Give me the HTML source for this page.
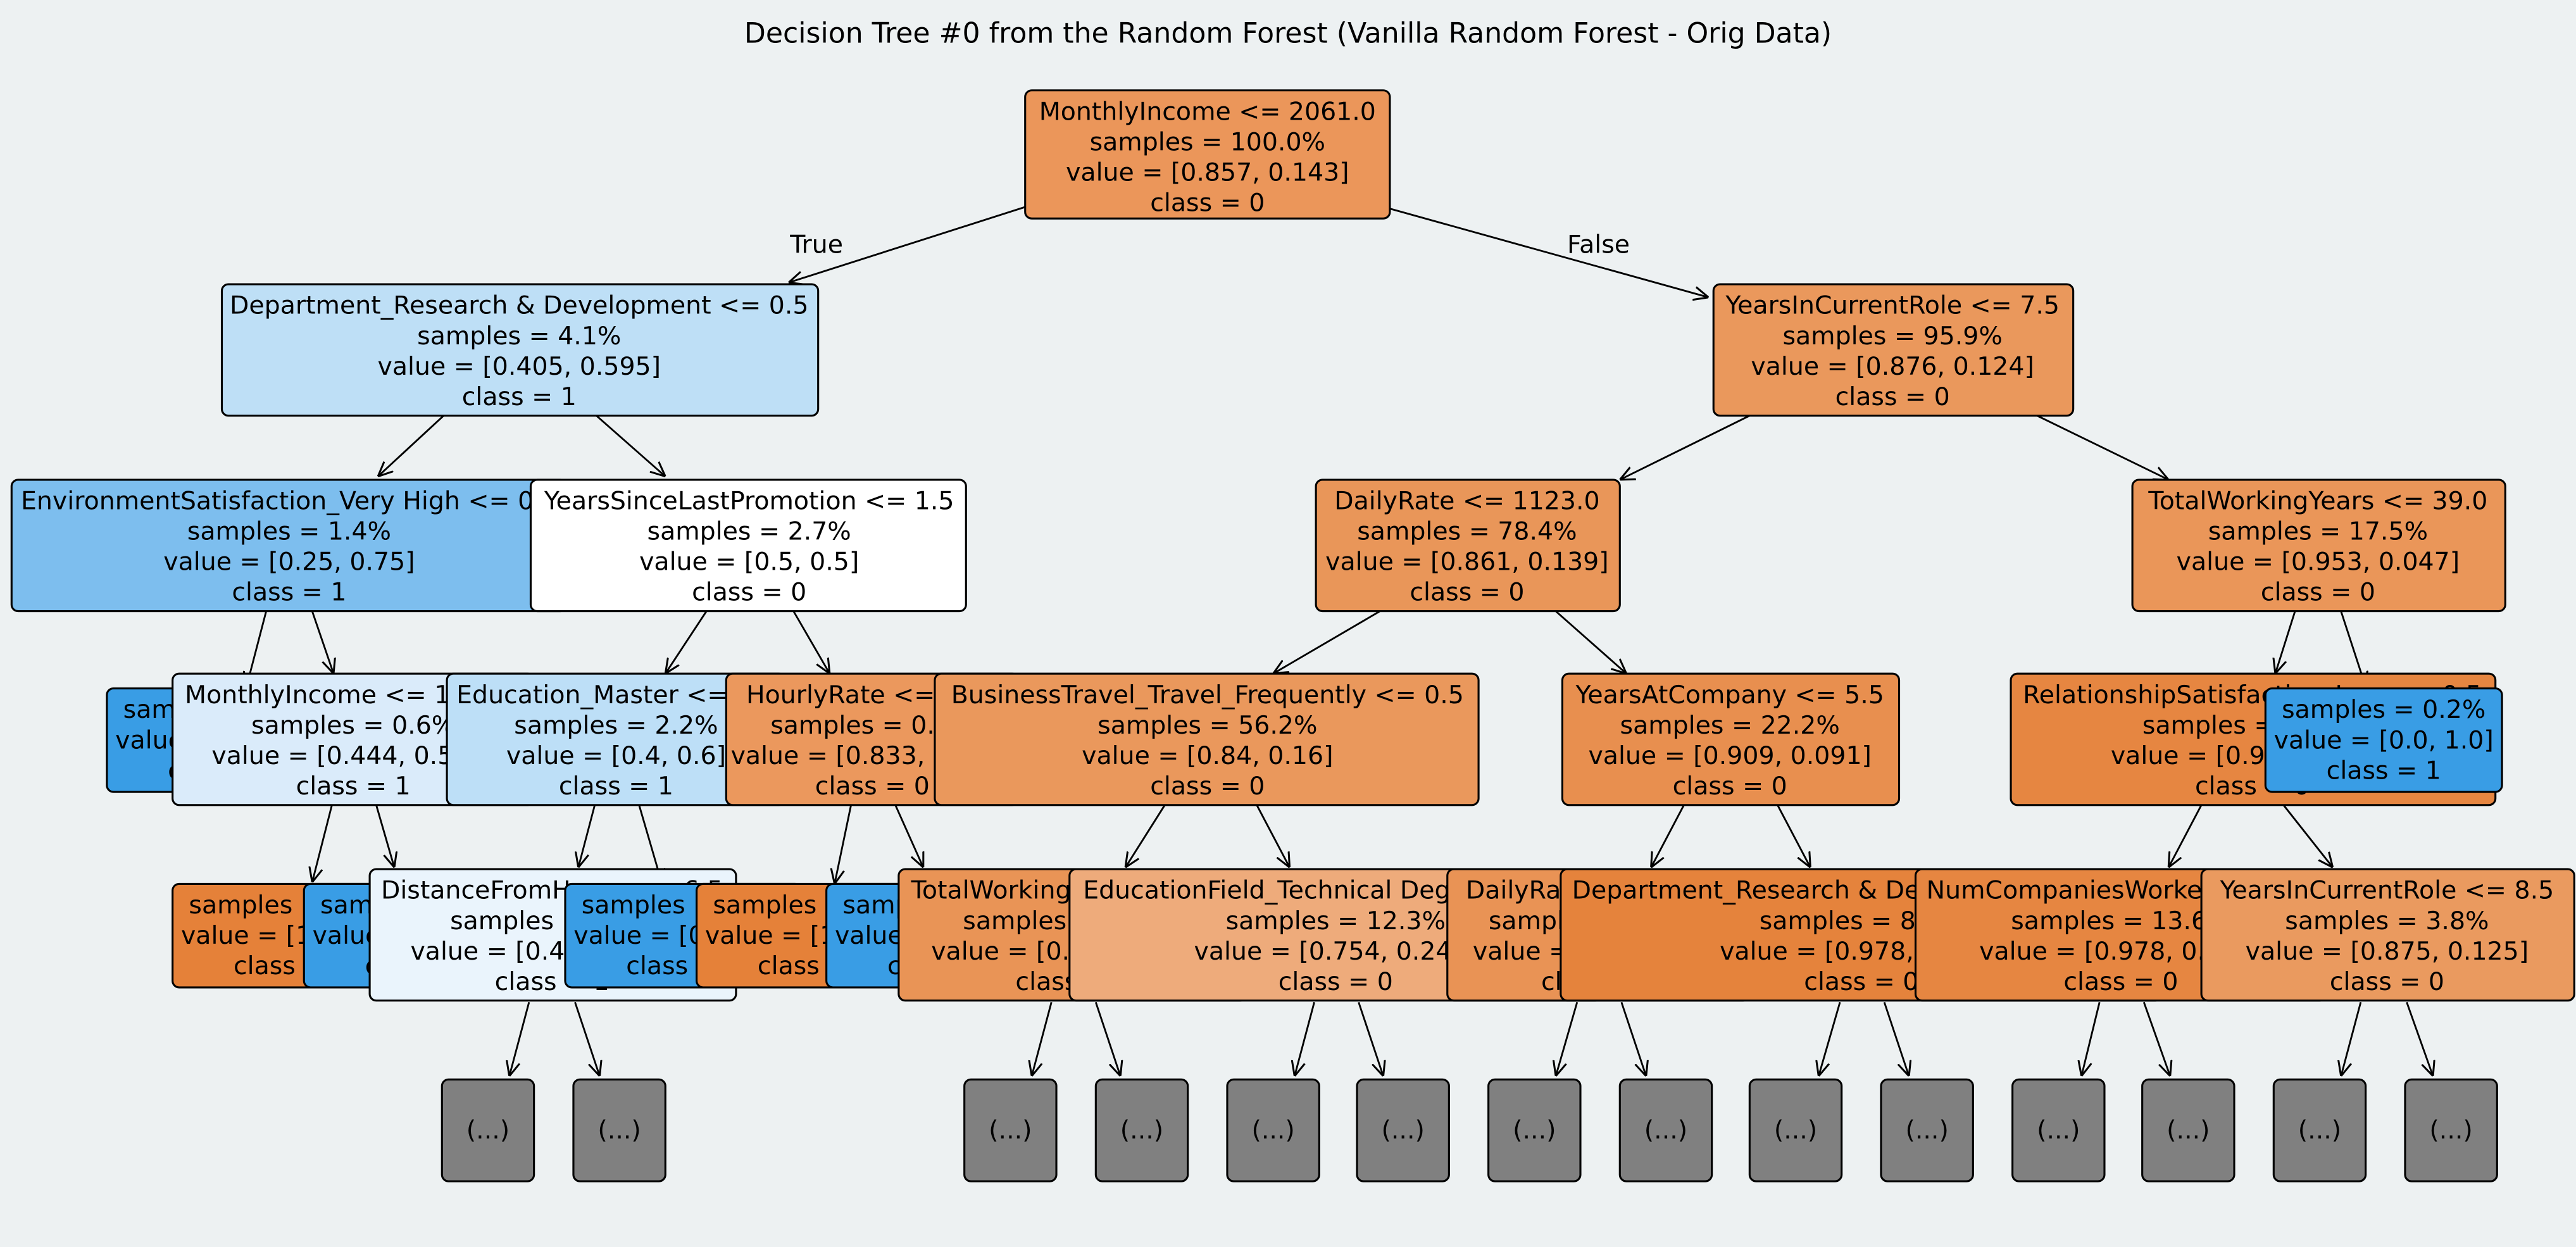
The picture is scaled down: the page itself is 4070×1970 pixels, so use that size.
<!DOCTYPE html>
<html><head><meta charset="utf-8"><style>
html,body{margin:0;padding:0;background:#edf1f2;}
svg{display:block;}
text{font-family:"DejaVu Sans","Liberation Sans",sans-serif;font-size:15.2px;fill:#000;}
</style></head><body>
<svg width="4070" height="1970" viewBox="0 0 1568 759" xmlns="http://www.w3.org/2000/svg">
<defs>
<marker id="a" markerUnits="userSpaceOnUse" markerWidth="9" markerHeight="9" refX="10" refY="5" orient="auto" viewBox="0 0 10 10">
<path d="M0,0.5 L10,5 L0,9.5" fill="none" stroke="#000" stroke-width="1.3"/>
</marker>
</defs>
<rect width="1568" height="759" fill="#edf1f2"/>
<text x="784" y="26" text-anchor="middle" style="font-size:17px">Decision Tree #0 from the Random Forest (Vanilla Random Forest - Orig Data)</text>

<g stroke="#000" stroke-width="1.1" marker-end="url(#a)">
<line x1="624" y1="126" x2="480" y2="172"/>
<line x1="846" y1="127" x2="1040" y2="181"/>
<line x1="270" y1="253" x2="230" y2="290"/>
<line x1="363" y1="253" x2="405" y2="290"/>
<line x1="1065" y1="253" x2="986" y2="292"/>
<line x1="1240" y1="253" x2="1320" y2="292"/>
<line x1="162" y1="372" x2="150" y2="418"/>
<line x1="190" y1="372" x2="203" y2="410"/>
<line x1="430" y1="372" x2="405" y2="410"/>
<line x1="483" y1="372" x2="505" y2="410"/>
<line x1="840" y1="372" x2="775" y2="410"/>
<line x1="947" y1="372" x2="990" y2="410"/>
<line x1="1397" y1="372" x2="1385" y2="410"/>
<line x1="1425" y1="372" x2="1440" y2="418"/>
<line x1="202" y1="490" x2="190" y2="537"/>
<line x1="229" y1="490" x2="240" y2="528"/>
<line x1="362" y1="490" x2="352" y2="528"/>
<line x1="389" y1="490" x2="403" y2="538"/>
<line x1="518" y1="490" x2="508" y2="538"/>
<line x1="545" y1="490" x2="562" y2="528"/>
<line x1="709" y1="490" x2="685" y2="528"/>
<line x1="765" y1="490" x2="785" y2="528"/>
<line x1="1025" y1="490" x2="1005" y2="528"/>
<line x1="1082" y1="490" x2="1102" y2="528"/>
<line x1="1340" y1="490" x2="1320" y2="528"/>
<line x1="1390" y1="490" x2="1420" y2="528"/>
<line x1="322" y1="610" x2="310" y2="655"/>
<line x1="350" y1="610" x2="365" y2="655"/>
<line x1="640" y1="610" x2="628" y2="655"/>
<line x1="667" y1="610" x2="682" y2="655"/>
<line x1="800" y1="610" x2="788" y2="655"/>
<line x1="827" y1="610" x2="842" y2="655"/>
<line x1="960" y1="610" x2="947" y2="655"/>
<line x1="987" y1="610" x2="1002" y2="655"/>
<line x1="1120" y1="610" x2="1107" y2="655"/>
<line x1="1147" y1="610" x2="1162" y2="655"/>
<line x1="1278" y1="610" x2="1267" y2="655"/>
<line x1="1305" y1="610" x2="1321" y2="655"/>
<line x1="1437" y1="610" x2="1425" y2="655"/>
<line x1="1465" y1="610" x2="1481" y2="655"/>
</g>

<text x="497" y="154" text-anchor="middle">True</text>
<text x="973" y="154" text-anchor="middle">False</text>

<g stroke="#000" stroke-width="1.2">
<rect x="624" y="55" width="222" height="78" rx="4" fill="#eb965a"/>
<rect x="135" y="173" width="363" height="80" rx="4" fill="#bedff6"/>
<rect x="1043" y="173" width="219" height="80" rx="4" fill="#ea985c"/>
</g>
<g text-anchor="middle">
<text x="735" y="73">MonthlyIncome &lt;= 2061.0</text><text x="735" y="91.5">samples = 100.0%</text><text x="735" y="110">value = [0.857, 0.143]</text><text x="735" y="128.5">class = 0</text>
<text x="316" y="191">Department_Research &amp; Development &lt;= 0.5</text><text x="316" y="209.5">samples = 4.1%</text><text x="316" y="228">value = [0.405, 0.595]</text><text x="316" y="246.5">class = 1</text>
<text x="1152" y="191">YearsInCurrentRole &lt;= 7.5</text><text x="1152" y="209.5">samples = 95.9%</text><text x="1152" y="228">value = [0.876, 0.124]</text><text x="1152" y="246.5">class = 0</text>
</g>

<g text-anchor="middle">
<rect x="7" y="292" width="338" height="80" rx="4" fill="#7dbeee" stroke="#000" stroke-width="1.2"/>
<text x="176" y="310">EnvironmentSatisfaction_Very High &lt;= 0.5</text><text x="176" y="328.5">samples = 1.4%</text><text x="176" y="347">value = [0.25, 0.75]</text><text x="176" y="365.5">class = 1</text>
<rect x="323" y="292" width="265" height="80" rx="4" fill="#ffffff" stroke="#000" stroke-width="1.2"/>
<text x="456" y="310">YearsSinceLastPromotion &lt;= 1.5</text><text x="456" y="328.5">samples = 2.7%</text><text x="456" y="347">value = [0.5, 0.5]</text><text x="456" y="365.5">class = 0</text>
<rect x="801" y="292" width="185" height="80" rx="4" fill="#e99659" stroke="#000" stroke-width="1.2"/>
<text x="893" y="310">DailyRate &lt;= 1123.0</text><text x="893" y="328.5">samples = 78.4%</text><text x="893" y="347">value = [0.861, 0.139]</text><text x="893" y="365.5">class = 0</text>
<rect x="1298" y="292" width="227" height="80" rx="4" fill="#ea9659" stroke="#000" stroke-width="1.2"/>
<text x="1411" y="310">TotalWorkingYears &lt;= 39.0</text><text x="1411" y="328.5">samples = 17.5%</text><text x="1411" y="347">value = [0.953, 0.047]</text><text x="1411" y="365.5">class = 0</text>
</g>

<g text-anchor="middle">
<rect x="65" y="419" width="144" height="63" rx="4" fill="#399de5" stroke="#000" stroke-width="1.2"/>
<text x="137" y="437">samples = 0.8%</text><text x="137" y="455.5">value = [0.0, 1.0]</text><text x="137" y="474">class = 1</text>
<rect x="105" y="410" width="220" height="80" rx="4" fill="#daebfa" stroke="#000" stroke-width="1.2"/>
<text x="215" y="428">MonthlyIncome &lt;= 1628.0</text><text x="215" y="446.5">samples = 0.6%</text><text x="215" y="465">value = [0.444, 0.556]</text><text x="215" y="483.5">class = 1</text>
<rect x="272" y="410" width="206" height="80" rx="4" fill="#bddff7" stroke="#000" stroke-width="1.2"/>
<text x="375" y="428">Education_Master &lt;= 0.5</text><text x="375" y="446.5">samples = 2.2%</text><text x="375" y="465">value = [0.4, 0.6]</text><text x="375" y="483.5">class = 1</text>
<rect x="442" y="410" width="178" height="80" rx="4" fill="#eb985d" stroke="#000" stroke-width="1.2"/>
<text x="531" y="428">HourlyRate &lt;= 84.5</text><text x="531" y="446.5">samples = 0.5%</text><text x="531" y="465">value = [0.833, 0.167]</text><text x="531" y="483.5">class = 0</text>
<rect x="569" y="410" width="331" height="80" rx="4" fill="#ea985c" stroke="#000" stroke-width="1.2"/>
<text x="735" y="428">BusinessTravel_Travel_Frequently &lt;= 0.5</text><text x="735" y="446.5">samples = 56.2%</text><text x="735" y="465">value = [0.84, 0.16]</text><text x="735" y="483.5">class = 0</text>
<rect x="951" y="410" width="205" height="80" rx="4" fill="#e88f4f" stroke="#000" stroke-width="1.2"/>
<text x="1053" y="428">YearsAtCompany &lt;= 5.5</text><text x="1053" y="446.5">samples = 22.2%</text><text x="1053" y="465">value = [0.909, 0.091]</text><text x="1053" y="483.5">class = 0</text>
<rect x="1224" y="410" width="295" height="80" rx="4" fill="#e68641" stroke="#000" stroke-width="1.2"/>
<text x="1371" y="428">RelationshipSatisfaction_Low &lt;= 0.5</text><text x="1371" y="446.5">samples = 17.3%</text><text x="1371" y="465">value = [0.963, 0.037]</text><text x="1371" y="483.5">class = 0</text>
<rect x="1379" y="419" width="144" height="63" rx="4" fill="#399de5" stroke="#000" stroke-width="1.2"/>
<text x="1451" y="437">samples = 0.2%</text><text x="1451" y="455.5">value = [0.0, 1.0]</text><text x="1451" y="474">class = 1</text>
</g>

<g text-anchor="middle">
<rect x="105" y="538" width="144" height="63" rx="4" fill="#e58139" stroke="#000" stroke-width="1.2"/>
<text x="177" y="556">samples = 0.2%</text><text x="177" y="574.5">value = [1.0, 0.0]</text><text x="177" y="593">class = 0</text>
<rect x="185" y="538" width="144" height="63" rx="4" fill="#399de5" stroke="#000" stroke-width="1.2"/>
<text x="257" y="556">samples = 0.4%</text><text x="257" y="574.5">value = [0.0, 1.0]</text><text x="257" y="593">class = 1</text>
<rect x="225" y="529" width="223" height="80" rx="4" fill="#eaf4fc" stroke="#000" stroke-width="1.2"/>
<text x="336" y="547">DistanceFromHome &lt;= 6.5</text><text x="336" y="565.5">samples = 1.6%</text><text x="336" y="584">value = [0.455, 0.545]</text><text x="336" y="602.5">class = 1</text>
<rect x="344" y="538" width="144" height="63" rx="4" fill="#399de5" stroke="#000" stroke-width="1.2"/>
<text x="416" y="556">samples = 0.6%</text><text x="416" y="574.5">value = [0.0, 1.0]</text><text x="416" y="593">class = 1</text>
<rect x="424" y="538" width="144" height="63" rx="4" fill="#e58139" stroke="#000" stroke-width="1.2"/>
<text x="496" y="556">samples = 0.4%</text><text x="496" y="574.5">value = [1.0, 0.0]</text><text x="496" y="593">class = 0</text>
<rect x="503" y="538" width="144" height="63" rx="4" fill="#399de5" stroke="#000" stroke-width="1.2"/>
<text x="575" y="556">samples = 0.1%</text><text x="575" y="574.5">value = [0.0, 1.0]</text><text x="575" y="593">class = 1</text>
<rect x="547" y="529" width="212" height="80" rx="4" fill="#e99456" stroke="#000" stroke-width="1.2"/>
<text x="653" y="547">TotalWorkingYears &lt;= 1.5</text><text x="653" y="565.5">samples = 43.9%</text><text x="653" y="584">value = [0.863, 0.137]</text><text x="653" y="602.5">class = 0</text>
<rect x="651" y="529" width="324" height="80" rx="4" fill="#eeab7b" stroke="#000" stroke-width="1.2"/>
<text x="813" y="547">EducationField_Technical Degree &lt;= 0.5</text><text x="813" y="565.5">samples = 12.3%</text><text x="813" y="584">value = [0.754, 0.246]</text><text x="813" y="602.5">class = 0</text>
<rect x="881" y="529" width="184" height="80" rx="4" fill="#e99355" stroke="#000" stroke-width="1.2"/>
<text x="973" y="547">DailyRate &lt;= 1360.5</text><text x="973" y="565.5">samples = 13.4%</text><text x="973" y="584">value = [0.87, 0.13]</text><text x="973" y="602.5">class = 0</text>
<rect x="950" y="529" width="366" height="80" rx="4" fill="#e5833c" stroke="#000" stroke-width="1.2"/>
<text x="1133" y="547">Department_Research &amp; Development &lt;= 0.5</text><text x="1133" y="565.5">samples = 8.8%</text><text x="1133" y="584">value = [0.978, 0.022]</text><text x="1133" y="602.5">class = 0</text>
<rect x="1166" y="529" width="250" height="80" rx="4" fill="#e68641" stroke="#000" stroke-width="1.2"/>
<text x="1291" y="547">NumCompaniesWorked &lt;= 5.5</text><text x="1291" y="565.5">samples = 13.6%</text><text x="1291" y="584">value = [0.978, 0.022]</text><text x="1291" y="602.5">class = 0</text>
<rect x="1340" y="529" width="227" height="80" rx="4" fill="#ea9a5f" stroke="#000" stroke-width="1.2"/>
<text x="1453" y="547">YearsInCurrentRole &lt;= 8.5</text><text x="1453" y="565.5">samples = 3.8%</text><text x="1453" y="584">value = [0.875, 0.125]</text><text x="1453" y="602.5">class = 0</text>
</g>

<g text-anchor="middle">
<g fill="#808080" stroke="#000" stroke-width="1.2">
<rect x="269" y="657" width="56" height="62" rx="4"/>
<rect x="349" y="657" width="56" height="62" rx="4"/>
<rect x="587" y="657" width="56" height="62" rx="4"/>
<rect x="667" y="657" width="56" height="62" rx="4"/>
<rect x="747" y="657" width="56" height="62" rx="4"/>
<rect x="826" y="657" width="56" height="62" rx="4"/>
<rect x="906" y="657" width="56" height="62" rx="4"/>
<rect x="986" y="657" width="56" height="62" rx="4"/>
<rect x="1065" y="657" width="56" height="62" rx="4"/>
<rect x="1145" y="657" width="56" height="62" rx="4"/>
<rect x="1225" y="657" width="56" height="62" rx="4"/>
<rect x="1304" y="657" width="56" height="62" rx="4"/>
<rect x="1384" y="657" width="56" height="62" rx="4"/>
<rect x="1464" y="657" width="56" height="62" rx="4"/>
</g>
<text x="297" y="693">(...)</text><text x="377" y="693">(...)</text>
<text x="615" y="693">(...)</text><text x="695" y="693">(...)</text>
<text x="775" y="693">(...)</text><text x="854" y="693">(...)</text>
<text x="934" y="693">(...)</text><text x="1014" y="693">(...)</text>
<text x="1093" y="693">(...)</text><text x="1173" y="693">(...)</text>
<text x="1253" y="693">(...)</text><text x="1332" y="693">(...)</text>
<text x="1412" y="693">(...)</text><text x="1492" y="693">(...)</text>
</g>
</svg>
</body></html>
